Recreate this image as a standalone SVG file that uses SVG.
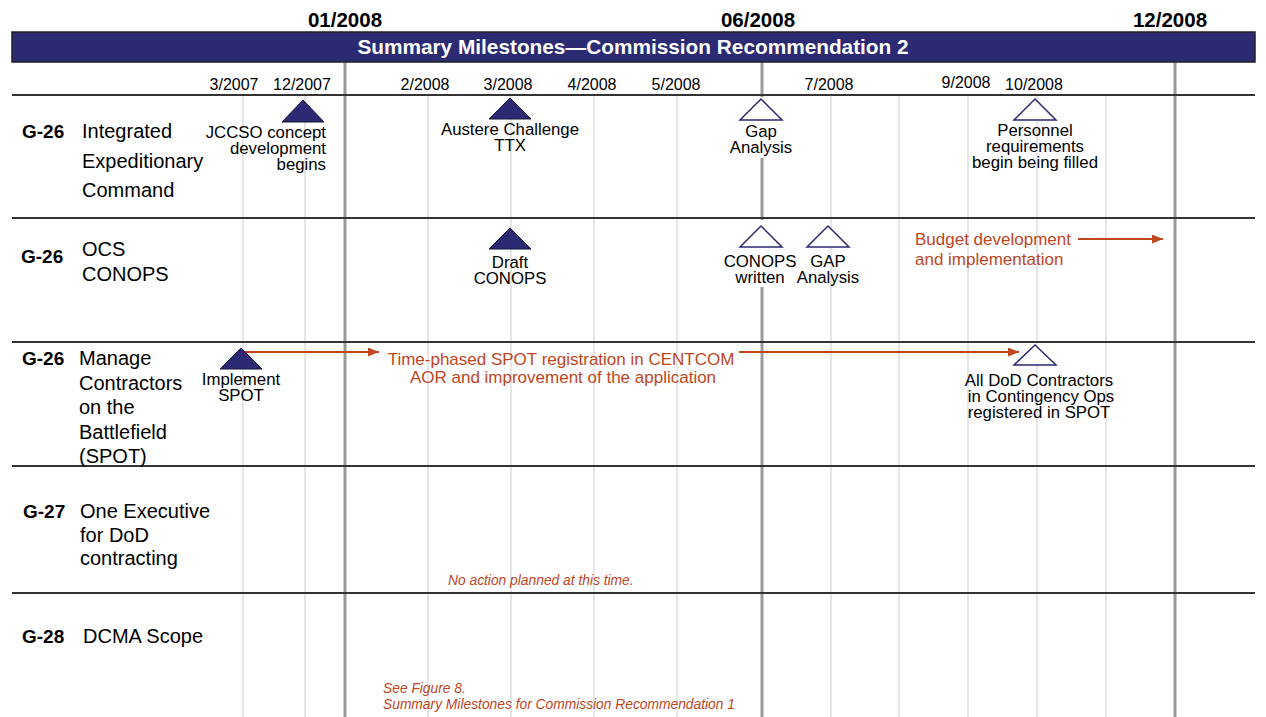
<svg xmlns="http://www.w3.org/2000/svg" width="1266" height="717" viewBox="0 0 1266 717">
  <defs>
    <marker id="ah" markerUnits="userSpaceOnUse" markerWidth="11" markerHeight="9" refX="11" refY="4.5" orient="auto">
      <path d="M0,0 L11,4.5 L0,9 z" fill="#c0461e"/>
    </marker>
    <style>
      text { font-family: "Liberation Sans", Arial, sans-serif; fill: #000; }
      .grid { stroke: #e6e6e6; stroke-width: 2; }
      .major { stroke: #9a9a9a; stroke-width: 3; }
      .rule { stroke: #333; stroke-width: 2; }
      .top { font-size: 20.5px; font-weight: bold; text-anchor: middle; }
      .banner-title { font-size: 20.8px; font-weight: bold; text-anchor: middle; fill: #fff; }
      .date { font-size: 16px; text-anchor: middle; }
      .code { font-size: 19px; font-weight: bold; }
      .title { font-size: 20px; }
      .lbl { font-size: 16.8px; text-anchor: middle; }
      .lbl-r { font-size: 16.8px; text-anchor: end; }
      .note { fill: #c0461e; font-size: 17px; }
      .ital { fill: #c0461e; font-size: 13.8px; font-style: italic; }
      .done { fill: #2b2a72; stroke: #15153a; stroke-width: 1; }
      .plan { fill: #fff; stroke: #2b2a72; stroke-width: 1.5; }
      .arrow { stroke: #c0461e; stroke-width: 2; fill: none; marker-end: url(#ah); }
      .mask { fill: #fff; }
    </style>
  </defs>

  <rect width="1266" height="717" fill="#fff"/>

  <!-- monthly grid -->
  <g id="grid">
    <line class="grid" x1="243" y1="96" x2="243" y2="717"/>
    <line class="grid" x1="305" y1="96" x2="305" y2="717"/>
    <line class="grid" x1="428" y1="96" x2="428" y2="717"/>
    <line class="grid" x1="511" y1="96" x2="511" y2="717"/>
    <line class="grid" x1="594" y1="96" x2="594" y2="717"/>
    <line class="grid" x1="677" y1="96" x2="677" y2="717"/>
    <line class="grid" x1="831" y1="96" x2="831" y2="717"/>
    <line class="grid" x1="899" y1="96" x2="899" y2="717"/>
    <line class="grid" x1="968" y1="96" x2="968" y2="717"/>
    <line class="grid" x1="1037" y1="96" x2="1037" y2="717"/>
    <line class="grid" x1="1106" y1="96" x2="1106" y2="717"/>
    <line class="major" x1="345" y1="62" x2="345" y2="717"/>
    <line class="major" x1="762" y1="62" x2="762" y2="717"/>
    <line class="major" x1="1175" y1="62" x2="1175" y2="717"/>
  </g>

  <!-- row separators -->
  <g id="rows">
    <line class="rule" x1="12" y1="95" x2="1255" y2="95"/>
    <line class="rule" x1="12" y1="218" x2="1255" y2="218"/>
    <line class="rule" x1="12" y1="342" x2="1255" y2="342"/>
    <line class="rule" x1="12" y1="466" x2="1255" y2="466"/>
    <line class="rule" x1="12" y1="593" x2="1255" y2="593"/>
  </g>

  <!-- header -->
  <g id="header">
    <text class="top" x="345" y="27">01/2008</text>
    <text class="top" x="758" y="27">06/2008</text>
    <text class="top" x="1170" y="27">12/2008</text>
    <rect x="12" y="32" width="1243" height="30" fill="#2b2a72" stroke="#222" stroke-width="1.5"/>
    <text class="banner-title" x="633" y="54">Summary Milestones—Commission Recommendation 2</text>
    <text class="date" x="234" y="90">3/2007</text>
    <text class="date" x="302" y="90">12/2007</text>
    <text class="date" x="425" y="90">2/2008</text>
    <text class="date" x="508" y="90">3/2008</text>
    <text class="date" x="592" y="90">4/2008</text>
    <text class="date" x="676" y="90">5/2008</text>
    <text class="date" x="829" y="90">7/2008</text>
    <text class="date" x="966" y="88">9/2008</text>
    <text class="date" x="1034" y="90">10/2008</text>
  </g>

  <!-- row titles -->
  <g id="row-iec">
    <text class="code" x="22" y="138">G-26</text>
    <text class="title" x="82" y="138">Integrated</text>
    <text class="title" x="82" y="168">Expeditionary</text>
    <text class="title" x="82" y="197">Command</text>
  </g>
  <g id="row-ocs">
    <text class="code" x="21" y="263">G-26</text>
    <text class="title" x="82" y="256">OCS</text>
    <text class="title" x="82" y="281">CONOPS</text>
  </g>
  <g id="row-spot">
    <text class="code" x="22" y="365">G-26</text>
    <text class="title" x="79" y="365">Manage</text>
    <text class="title" x="79" y="390">Contractors</text>
    <text class="title" x="79" y="414">on the</text>
    <text class="title" x="79" y="439">Battlefield</text>
    <text class="title" x="79" y="463">(SPOT)</text>
  </g>
  <g id="row-exec">
    <text class="code" x="23" y="518">G-27</text>
    <text class="title" x="80" y="518">One Executive</text>
    <text class="title" x="80" y="542">for DoD</text>
    <text class="title" x="80" y="565">contracting</text>
    <text class="ital" x="448" y="585" font-size="14.4">No action planned at this time.</text>
  </g>
  <g id="row-dcma">
    <text class="code" x="22" y="643">G-28</text>
    <text class="title" x="83" y="643">DCMA Scope</text>
    <text class="ital" x="383" y="693">See Figure 8.</text>
    <text class="ital" x="383" y="709">Summary Milestones for Commission Recommendation 1</text>
  </g>

  <!-- connectors -->
  <g id="connectors">
    <line class="arrow" x1="243" y1="352" x2="379" y2="352"/>
    <line class="arrow" x1="739" y1="352" x2="1019" y2="352"/>
    <line class="arrow" x1="1078" y1="239" x2="1163" y2="239"/>
  </g>

  <!-- milestones -->
  <g id="m-jccso">
    <polygon class="done" points="303,100 324,122 282,122"/>
    <text class="lbl-r" x="326" y="138">JCCSO concept</text>
    <text class="lbl-r" x="326" y="154">development</text>
    <text class="lbl-r" x="326" y="170">begins</text>
  </g>
  <g id="m-austere">
    <polygon class="done" points="510,98 531,119 489,119"/>
    <text class="lbl" x="510" y="135">Austere Challenge</text>
    <text class="lbl" x="510" y="151">TTX</text>
  </g>
  <g id="m-gap1">
    <rect class="mask" x="736" y="97" width="52" height="61"/>
    <polygon class="plan" points="761,99 782,120 740,120"/>
    <text class="lbl" x="761" y="137">Gap</text>
    <text class="lbl" x="761" y="153">Analysis</text>
  </g>
  <g id="m-personnel">
    <polygon class="plan" points="1035,99 1056,120 1014,120"/>
    <text class="lbl" x="1035" y="136">Personnel</text>
    <text class="lbl" x="1035" y="152">requirements</text>
    <text class="lbl" x="1035" y="168">begin being filled</text>
  </g>
  <g id="m-draft">
    <polygon class="done" points="510,228 531,249 489,249"/>
    <text class="lbl" x="510" y="268">Draft</text>
    <text class="lbl" x="510" y="284">CONOPS</text>
  </g>
  <g id="m-written">
    <rect class="mask" x="736" y="220" width="52" height="67"/>
    <polygon class="plan" points="761,226 782,247 740,247"/>
    <text class="lbl" x="760" y="267">CONOPS</text>
    <text class="lbl" x="760" y="283">written</text>
  </g>
  <g id="m-gap2">
    <polygon class="plan" points="828,226 849,247 807,247"/>
    <text class="lbl" x="828" y="267">GAP</text>
    <text class="lbl" x="828" y="283">Analysis</text>
  </g>
  <g id="m-budget">
    <text class="note" x="915" y="245">Budget development</text>
    <text class="note" x="915" y="265">and implementation</text>
  </g>
  <g id="m-implement">
    <polygon class="done" points="241,348 262,369 220,369"/>
    <text class="lbl" x="241" y="385">Implement</text>
    <text class="lbl" x="241" y="401">SPOT</text>
  </g>
  <g id="m-phased">
    <text class="note" x="561" y="365" text-anchor="middle">Time-phased SPOT registration in CENTCOM</text>
    <text class="note" x="563" y="383" text-anchor="middle">AOR and improvement of the application</text>
  </g>
  <g id="m-alldod">
    <polygon class="plan" points="1035,345 1056,365 1014,365"/>
    <text class="lbl" x="1039" y="386">All DoD Contractors</text>
    <text class="lbl" x="1041" y="402">in Contingency Ops</text>
    <text class="lbl" x="1039" y="418">registered in SPOT</text>
  </g>
</svg>
